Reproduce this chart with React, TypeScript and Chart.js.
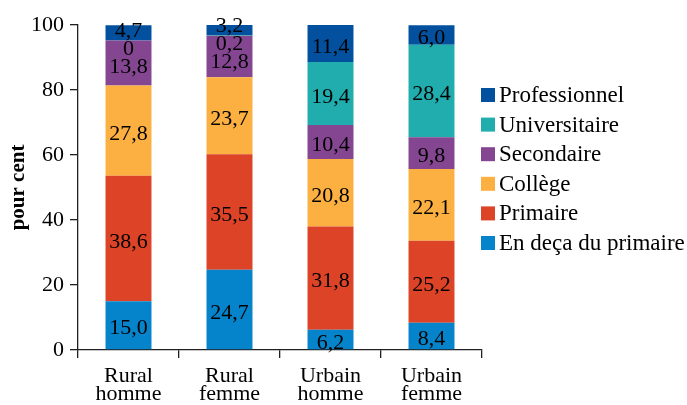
import React, { useEffect, useRef } from 'react';
import { Chart, registerables } from 'chart.js';

Chart.register(...registerables);

const categories = [
  ['Rural', 'homme'],
  ['Rural', 'femme'],
  ['Urbain', 'homme'],
  ['Urbain', 'femme'],
];
const seriesNames = ['En deça du primaire', 'Primaire', 'Collège', 'Secondaire', 'Universitaire', 'Professionnel'];
const enDeca = [15.0, 24.7, 6.2, 8.4];
const primaire = [38.6, 35.5, 31.8, 25.2];
const college = [27.8, 23.7, 20.8, 22.1];
const secondaire = [13.8, 12.8, 10.4, 9.8];
const universitaire = [0, 0.2, 19.4, 28.4];
const professionnel = [4.7, 3.2, 11.4, 6.0];
const seriesValues = [enDeca, primaire, college, secondaire, universitaire, professionnel];
const seriesColors = ['#0583cb', '#dd4327', '#fbb041', '#844691', '#21adad', '#03509e'];
const yMin = 0;
const yMax = 100;
const yStep = 20;
const yTitle = 'pour cent';

const FONT = '"Liberation Serif", "Times New Roman", serif';
const INK = '#231f20';

const fmt = (v: number) => (v === 0 ? '0' : v.toFixed(1).replace('.', ','));

const dataLabelPlugin = {
  id: 'dataLabels',
  afterDatasetsDraw(chart: any) {
    const ctx = chart.ctx;
    const nCat = chart.data.labels.length;
    ctx.save();
    ctx.font = `22px ${FONT}`;
    ctx.fillStyle = '#000';
    ctx.textAlign = 'center';
    ctx.textBaseline = 'alphabetic';
    for (let c = 0; c < nCat; c++) {
      const items: { x: number; y: number; text: string }[] = [];
      chart.data.datasets.forEach((ds: any, di: number) => {
        const meta = chart.getDatasetMeta(di);
        const el = meta.data[c];
        if (!el) return;
        items.push({ x: el.x, y: (el.y + el.base) / 2, text: fmt(ds.data[c]) });
      });
      items.sort((a, b) => a.y - b.y);
      const gap = 18;
      for (let it = 0; it < 60; it++) {
        for (let i = 0; i < items.length - 1; i++) {
          const a = items[i];
          const b = items[i + 1];
          const d = b.y - a.y;
          if (d < gap) {
            const s = (gap - d) / 2;
            a.y -= s;
            b.y += s;
          }
        }
      }
      items.forEach((it) => ctx.fillText(it.text, it.x, it.y + 9));
    }
    ctx.restore();
  },
};

const legendPlugin = {
  id: 'customLegend',
  afterDraw(chart: any) {
    const ctx = chart.ctx;
    const dss = chart.data.datasets.slice().reverse();
    ctx.save();
    ctx.font = `23px ${FONT}`;
    ctx.textAlign = 'left';
    ctx.textBaseline = 'alphabetic';
    const boxX = chart.chartArea.right - 1;
    const startCenter = 95;
    const step = 29.6;
    dss.forEach((ds: any, i: number) => {
      const cy = startCenter + i * step;
      ctx.fillStyle = ds.backgroundColor;
      ctx.fillRect(boxX, cy - 7, 14, 14);
      ctx.fillStyle = '#000';
      ctx.fillText(ds.label, boxX + 18, cy + 7);
    });
    ctx.restore();
  },
};

export default function App() {
  const ref = useRef<HTMLCanvasElement | null>(null);
  useEffect(() => {
    document.body.style.margin = '0';
    if (!ref.current) return;
    const chart = new Chart(ref.current, {
      type: 'bar',
      data: {
        labels: categories as any,
        datasets: seriesNames.map((name, i) => ({
          label: name,
          data: seriesValues[i],
          backgroundColor: seriesColors[i],
          borderWidth: 0,
          categoryPercentage: 1,
          barPercentage: 0.455,
        })),
      },
      options: {
        responsive: false,
        animation: false,
        devicePixelRatio: 1,
        layout: { padding: { top: 25, right: 205, left: 0, bottom: 0 } },
        plugins: {
          legend: { display: false },
          tooltip: { enabled: false },
        },
        scales: {
          x: {
            stacked: true,
            offset: true,
            grid: {
              display: true,
              drawOnChartArea: false,
              drawTicks: true,
              tickLength: 8,
              color: INK,
              lineWidth: 1.3,
              offset: true,
            },
            border: { display: true, color: INK, width: 1.3 },
            ticks: {
              color: '#000',
              font: { family: FONT, size: 22, lineHeight: '18px' } as any,
              padding: 9,
              maxRotation: 0,
              autoSkip: false,
            },
            afterFit: (s: any) => {
              s.height = 55;
            },
          },
          y: {
            stacked: true,
            min: yMin,
            max: yMax,
            grid: {
              display: true,
              drawOnChartArea: false,
              drawTicks: true,
              tickLength: 8,
              color: INK,
              lineWidth: 1.3,
            },
            border: { display: true, color: INK, width: 1.3 },
            ticks: {
              stepSize: yStep,
              color: '#000',
              font: { family: FONT, size: 22 },
              padding: 6,
            },
            title: {
              display: true,
              text: yTitle,
              color: '#000',
              font: { family: FONT, size: 21, weight: 'bold' },
              padding: { top: 6, bottom: 0 },
            },
            afterFit: (s: any) => {
              s.width = 78;
            },
          },
        },
      },
      plugins: [dataLabelPlugin, legendPlugin],
    });
    return () => chart.destroy();
  }, []);
  return (
    <div style={{ width: 687, height: 405 }}>
      <canvas ref={ref} width={687} height={405} style={{ display: 'block' }} />
    </div>
  );
}
